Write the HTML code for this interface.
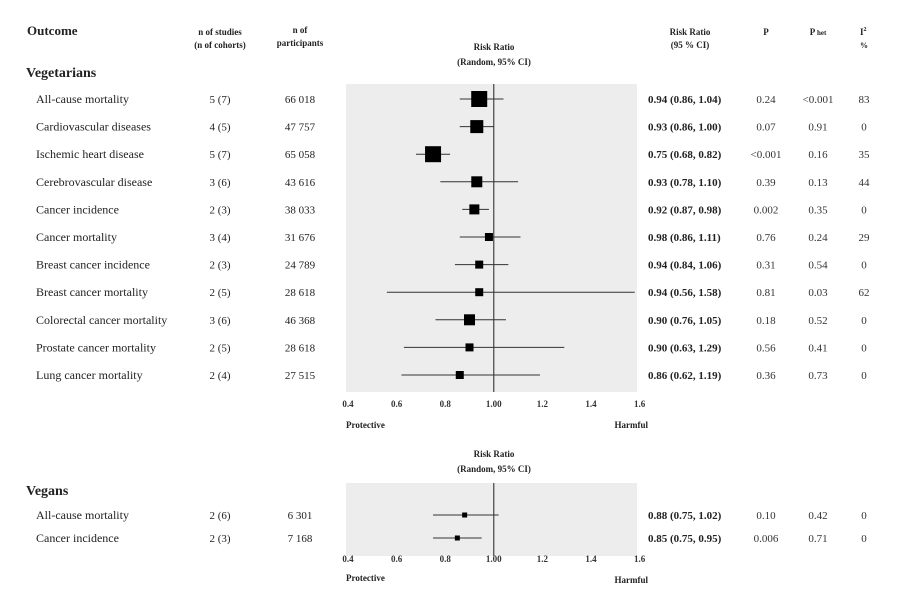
<!DOCTYPE html>
<html><head><meta charset="utf-8"><style>
body{margin:0;background:#fff;}
svg{display:block;font-family:"Liberation Serif",serif;}
</style></head><body>
<svg id="chart" width="917" height="601" viewBox="0 0 917 601">
<g font-weight="bold" fill="#222">
<text x="27" y="35" font-size="13">Outcome</text>
<text x="220" y="35" font-size="9" text-anchor="middle">n of studies</text>
<text x="220" y="48" font-size="9" text-anchor="middle">(n of cohorts)</text>
<text x="300" y="33" font-size="9" text-anchor="middle">n of</text>
<text x="300" y="46" font-size="9" text-anchor="middle">participants</text>
<text x="494" y="50" font-size="9" text-anchor="middle">Risk Ratio</text>
<text x="494" y="65" font-size="9" text-anchor="middle">(Random, 95% CI)</text>
<text x="690" y="35" font-size="9" text-anchor="middle">Risk Ratio</text>
<text x="690" y="48" font-size="9" text-anchor="middle">(95 % CI)</text>
<text x="766" y="35" font-size="9" text-anchor="middle">P</text>
<text x="818" y="35" font-size="9" text-anchor="middle">P <tspan font-size="7">het</tspan></text>
<text x="860" y="35" font-size="9">I<tspan font-size="6" dy="-4">2</tspan></text>
<text x="860" y="48" font-size="8">%</text>
<text x="26" y="77" font-size="14">Vegetarians</text>
<text x="26" y="495" font-size="14">Vegans</text>
<text x="494" y="457" font-size="9" text-anchor="middle">Risk Ratio</text>
<text x="494" y="472" font-size="9" text-anchor="middle">(Random, 95% CI)</text>
</g>
<g id="g1"></g>
<g id="g2"></g>
</svg>
<script>
const outcomes1=["All-cause mortality","Cardiovascular diseases","Ischemic heart disease","Cerebrovascular disease","Cancer incidence","Cancer mortality","Breast cancer incidence","Breast cancer mortality","Colorectal cancer mortality","Prostate cancer mortality","Lung cancer mortality"];
const studies1=["5 (7)","4 (5)","5 (7)","3 (6)","2 (3)","3 (4)","2 (3)","2 (5)","3 (6)","2 (5)","2 (4)"];
const participants1=["66 018","47 757","65 058","43 616","38 033","31 676","24 789","28 618","46 368","28 618","27 515"];
const rr1=[0.94,0.93,0.75,0.93,0.92,0.98,0.94,0.94,0.90,0.90,0.86];
const lo1=[0.86,0.86,0.68,0.78,0.87,0.86,0.84,0.56,0.76,0.63,0.62];
const hi1=[1.04,1.00,0.82,1.10,0.98,1.11,1.06,1.58,1.05,1.29,1.19];
const weight1=[16,13,16,11,10,8,8,8,11,8,8];
const p1=["0.24","0.07","<0.001","0.39","0.002","0.76","0.31","0.81","0.18","0.56","0.36"];
const phet1=["<0.001","0.91","0.16","0.13","0.35","0.24","0.54","0.03","0.52","0.41","0.73"];
const i21=["83","0","35","44","0","29","0","62","0","0","0"];
const outcomes2=["All-cause mortality","Cancer incidence"];
const studies2=["2 (6)","2 (3)"];
const participants2=["6 301","7 168"];
const rr2=[0.88,0.85];
const lo2=[0.75,0.75];
const hi2=[1.02,0.95];
const weight2=[5,5];
const p2=["0.10","0.006"];
const phet2=["0.42","0.71"];
const i22=["0","0"];
const ticks=[0.4,0.6,0.8,1.0,1.2,1.4,1.6];
const tickLabels=["0.4","0.6","0.8","1.00","1.2","1.4","1.6"];
const NS="http://www.w3.org/2000/svg";
const xs=v=>348+(v-0.4)*243;
function mk(p,t,a,txt){const e=document.createElementNS(NS,t);for(const k in a)e.setAttribute(k,a[k]);if(txt!=null)e.textContent=txt;p.appendChild(e);return e;}
function panel(g,top,bot,y0,dy,outs,st,pa,rr,lo,hi,w,p,ph,i2,tickY,protY,harmY){
  let e=mk(g,"rect",{x:346,y:top,width:291,height:bot-top,fill:"#ededed"});
  
  
  e=mk(g,"line",{x1:xs(1),x2:xs(1),y1:top,y2:bot,stroke:"#222","stroke-width":1});
  
  
  outs.forEach((o,i)=>{
    const y=y0+i*dy;
    e=mk(g,"text",{x:36,y:y+4,"font-size":12,fill:"#222"},o);
    
    
    e=mk(g,"text",{x:220,y:y+4,"font-size":11,"text-anchor":"middle",fill:"#222"},st[i]);
    
    
    e=mk(g,"text",{x:300,y:y+4,"font-size":11,"text-anchor":"middle",fill:"#222"},pa[i]);
    
    
    e=mk(g,"line",{x1:xs(lo[i]),x2:xs(hi[i]),y1:y,y2:y,stroke:"#333","stroke-width":1});
    
    
    e=mk(g,"rect",{x:xs(rr[i])-w[i]/2,y:y-w[i]/2,width:w[i],height:w[i],fill:"#000"});
    
    
    e=mk(g,"text",{x:648,y:y+4,"font-size":11,"font-weight":"bold",fill:"#222"},rr[i].toFixed(2)+" ("+lo[i].toFixed(2)+", "+hi[i].toFixed(2)+")");
    
    
    e=mk(g,"text",{x:766,y:y+4,"font-size":11,"text-anchor":"middle",fill:"#333"},p[i]);
    
    
    e=mk(g,"text",{x:818,y:y+4,"font-size":11,"text-anchor":"middle",fill:"#333"},ph[i]);
    
    
    e=mk(g,"text",{x:864,y:y+4,"font-size":11,"text-anchor":"middle",fill:"#333"},i2[i]);
    
    
  });
  ticks.forEach((t,i)=>{
    e=mk(g,"text",{x:xs(t),y:tickY,"font-size":9,"font-weight":"bold","text-anchor":"middle",fill:"#333"},tickLabels[i]);
    
    
  });
  e=mk(g,"text",{x:346,y:protY,"font-size":9,"font-weight":"bold",fill:"#222"},"Protective");
  
  
  e=mk(g,"text",{x:648,y:harmY,"font-size":9,"font-weight":"bold","text-anchor":"end",fill:"#222"},"Harmful");
  
  
}
panel(document.getElementById("g1"),84,392,99,27.6,outcomes1,studies1,participants1,rr1,lo1,hi1,weight1,p1,phet1,i21,407,428,428);
panel(document.getElementById("g2"),483,556,515,23,outcomes2,studies2,participants2,rr2,lo2,hi2,weight2,p2,phet2,i22,562,581,583);
</script>
</body></html>
